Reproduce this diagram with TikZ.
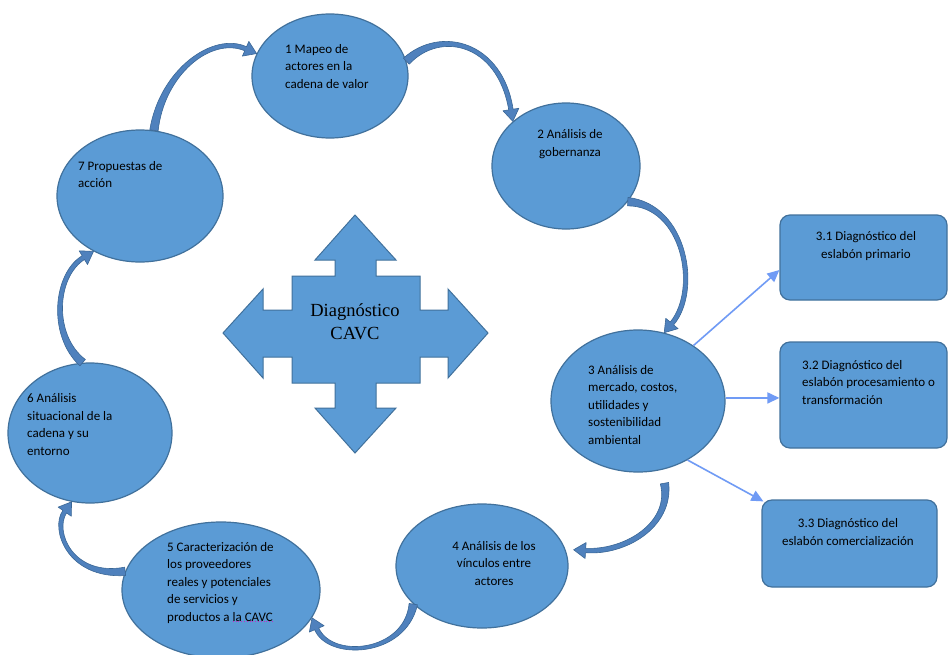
\documentclass[tikz,border=0pt]{standalone}
\usepackage{fontspec}
\setmainfont{Carlito}
\newfontfamily\crossfont{Liberation Serif}
\usetikzlibrary{shapes.geometric,arrows.meta,calc}
\definecolor{efill}{HTML}{5B9BD5}
\definecolor{edraw}{HTML}{41719C}
\definecolor{cfill}{HTML}{4F81BD}
\definecolor{cdraw}{HTML}{3A6796}
\definecolor{lblue}{RGB}{112,155,245}
\definecolor{spell}{RGB}{200,40,200}
\tikzset{
  ell/.style={ellipse, fill=efill, draw=edraw, line width=1.2pt, inner sep=0pt},
  rbox/.style={rectangle, rounded corners=10pt, fill=efill, draw=edraw, line width=1.2pt, inner sep=0pt},
  lbl/.style={inner sep=0pt, font=\fontsize{13}{17.5}\selectfont, text=black},
  link/.style={draw=lblue, line width=1.6pt, -{Triangle[length=12pt,width=11pt]}},
  bandstyle/.style={fill=cfill, draw=cdraw, line width=0.6pt, line join=round}
}
\newcommand\bandarw[4]{%
  \coordinate (bwA) at (#1);
  \coordinate (bwP) at (#2);
  \coordinate (bwQ) at (#3);
  \coordinate (bwT) at (#4);
  \coordinate (bwH) at ($(bwT)!12pt!(bwQ)$);
  \path[bandstyle]
    ($(bwA)!4.2pt!90:(bwP)$) .. controls ($(bwP)!3.6pt!90:(bwQ)$) and ($(bwQ)!2.8pt!90:(bwH)$) .. ($(bwH)!2.2pt!90:(bwT)$)
    -- ($(bwH)!8pt!90:(bwT)$) -- (bwT) -- ($(bwH)!8pt!-90:(bwT)$)
    -- ($(bwH)!2.2pt!-90:(bwT)$) .. controls ($(bwQ)!2.8pt!-90:(bwH)$) and ($(bwP)!3.6pt!-90:(bwQ)$) .. ($(bwA)!4.2pt!-90:(bwP)$) -- cycle;
}
\begin{document}
\begin{tikzpicture}[x=1pt,y=-1pt]
\useasboundingbox (0,0) rectangle (948,654);
\fill[white] (0,0) rectangle (948,654);

% ellipses
\node[ell, minimum width=156pt, minimum height=124pt] (e1) at (330,76) {};
\node[ell, minimum width=148pt, minimum height=126pt] (e2) at (566,166) {};
\node[ell, minimum width=174pt, minimum height=142pt] (e3) at (638,401) {};
\node[ell, minimum width=172pt, minimum height=124pt] (e4) at (482,566) {};
\node[ell, minimum width=198pt, minimum height=136pt] (e5) at (221,590) {};
\node[ell, minimum width=164pt, minimum height=140pt] (e6) at (90,433) {};
\node[ell, minimum width=166pt, minimum height=132pt] (e7) at (140,196) {};

% boxes
\node[rbox, minimum width=167pt, minimum height=85pt] (r1) at (863.5,257.5) {};
\node[rbox, minimum width=167pt, minimum height=106pt] (r2) at (863.5,395) {};
\node[rbox, minimum width=175pt, minimum height=87pt] (r3) at (849.5,543.5) {};

% texts
\node[lbl, anchor=west, align=left] (t1) at (285,66.5) {1 Mapeo de\\actores en la\\cadena de valor};
\node[lbl, align=center] (t2) at (570,144) {2 Análisis de\\gobernanza};
\node[lbl, anchor=west, align=left] (t3) at (588,405) {3 Análisis de\\mercado, costos,\\utilidades y\\sostenibilidad\\ambiental};
\node[lbl, align=center] (t4) at (494,563.5) {4 Análisis de los\\vínculos entre\\actores};
\node[lbl, anchor=west, align=left] (t5) at (167,583) {5 Caracterización de\\los proveedores\\reales y potenciales\\de servicios y\\productos a la CAVC};
\node[lbl, anchor=west, align=left] (t6) at (27,424.5) {6 Análisis\\situacional de la\\cadena y su\\entorno};
\node[lbl, anchor=west, align=left] (t7) at (78,174.5) {7 Propuestas de\\acción};
\node[lbl, align=center] (tr1) at (866,246) {3.1 Diagnóstico del\\eslabón primario};
\node[lbl, anchor=west, align=left] (tr2) at (802,382.5) {3.2 Diagnóstico del\\eslabón procesamiento o\\transformación};
\node[lbl, align=center] (tr3) at (848,532) {3.3 Diagnóstico del\\eslabón comercialización};
\draw[spell, dotted, line width=0.8pt] ([xshift=-41pt,yshift=2pt]t5.south east) -- ([yshift=2pt]t5.south east);

% central quad arrow
\draw[fill=efill, draw=edraw, line width=1pt, line join=miter]
  (355,215) -- (396,260) -- (376,260) -- (376,276) -- (420,276) -- (420,310) -- (448,310) -- (448,289)
  -- (488,333) -- (448,378) -- (448,357) -- (420,357) -- (420,383) -- (376,383) -- (376,408) -- (396,408)
  -- (355,453) -- (315,408) -- (335,408) -- (335,383) -- (292,383) -- (292,357) -- (263,357) -- (263,378)
  -- (223,333) -- (263,289) -- (263,310) -- (292,310) -- (292,276) -- (335,276) -- (335,260) -- (315,260) -- cycle;
\node[inner sep=0pt, align=center, font=\crossfont\fontsize{18.5}{23}\selectfont] (diag) at (355,322) {Diagnóstico\\CAVC};

% links to sub-diagnostics
\draw[link] (e3.45) -- ([yshift=-12.5pt]r1.west);
\draw[link] (e3.2) -- (e3.2 -| r2.west);
\draw[link] (e3.-50) -- ([xshift=2pt,yshift=-2pt]r3.north west);

% curved band arrows around the cycle
\bandarw{e7.78}{162,72}{212,34}{e1.163}
\bandarw{e1.11}{440,28}{500,42}{e2.140}
\bandarw{e2.-30}{685,205}{700,290}{e3.69}
\bandarw{[xshift=4pt,yshift=-13pt]e3.-72}{672,525}{625,553}{[xshift=8pt]e4.11}
\bandarw{e4.-151}{405,655}{330,660}{e5.-17}
\bandarw{e5.169}{70,578}{52,530}{e6.-105}
\bandarw{e6.96}{50,335}{55,275}{e7.-130}
\end{tikzpicture}
\end{document}
